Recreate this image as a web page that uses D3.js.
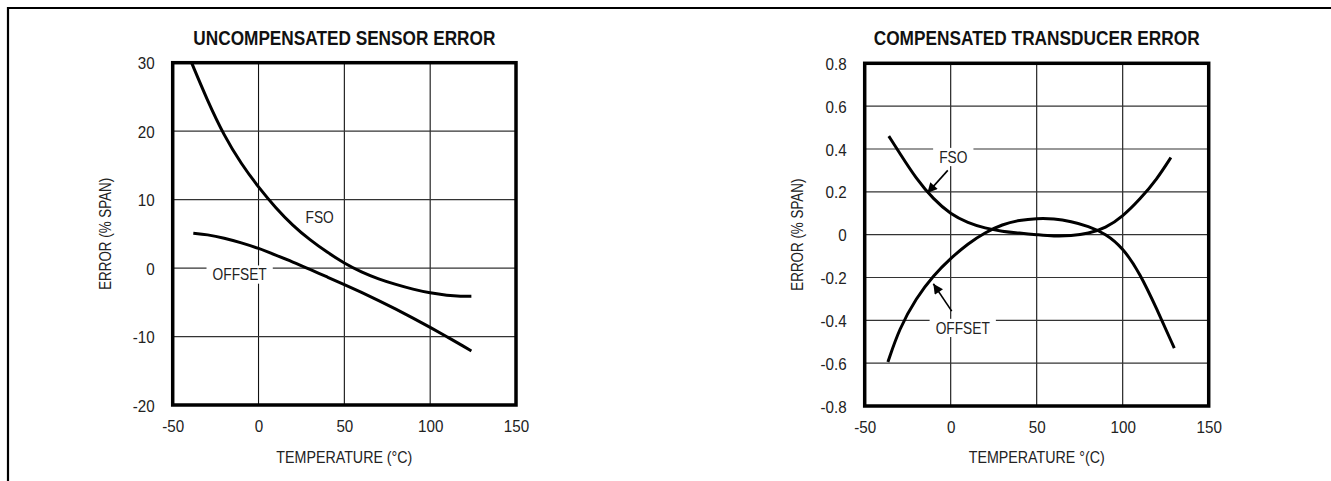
<!DOCTYPE html>
<html>
<head>
<meta charset="utf-8">
<script src="https://cdn.jsdelivr.net/npm/d3@7"></script>
<style>
  body { margin: 0; background: #fff; }
  svg { display: block; font-family: "Liberation Sans", Arial, sans-serif; }
</style>
</head>
<body>
<div id="chart"></div>
<script>
// valeurs
const tempTicks = [-50, 0, 50, 100, 150];

// graphique de gauche : erreur non compensée (% span)
const uncompTicks = [-20, -10, 0, 10, 20, 30];
const uncompFso = [
    [-39, 30], [-30, 24.6], [-20, 19.3], [-10, 15.2], [0, 11.8], [10, 8.8], [20, 6.2],
    [30, 4.1], [40, 2.3], [50, 0.7], [60, -0.6], [70, -1.6], [80, -2.4], [90, -3.1],
    [100, -3.65], [110, -4.0], [118, -4.12], [124, -4.1]
];
const uncompOffset = [
    [-38, 5.1], [-30, 4.9], [-20, 4.4], [-10, 3.7], [0, 2.9], [10, 1.9], [20, 0.9],
    [30, -0.2], [40, -1.3], [50, -2.4], [60, -3.55], [70, -4.75], [80, -6.0], [90, -7.3],
    [100, -8.65], [110, -10.05], [120, -11.5], [124, -12.1]
];

// graphique de droite : erreur compensée (% span)
const compTicks = [-0.8, -0.6, -0.4, -0.2, 0, 0.2, 0.4, 0.6, 0.8];
const compFso = [
    [-36, 0.46], [-30, 0.385], [-20, 0.26], [-10, 0.165], [0, 0.095], [10, 0.055],
    [20, 0.03], [30, 0.015], [40, 0.007], [50, 0], [60, -0.008], [70, -0.006],
    [80, 0.005], [90, 0.03], [100, 0.085], [110, 0.165], [120, 0.26], [128, 0.36]
];
const compOffset = [
    [-36.5, -0.595], [-30, -0.44], [-20, -0.295], [-10, -0.19], [0, -0.11], [10, -0.042],
    [20, 0.01], [30, 0.048], [40, 0.068], [50, 0.076], [60, 0.075], [70, 0.062],
    [80, 0.04], [90, 0.005], [100, -0.06], [110, -0.18], [120, -0.35], [130, -0.53]
];

// étiquettes des courbes : [texte, T, valeur]  + flèches [T0, v0, T1, v1]
const uncompLabels = [["FSO", 35.6, 6.57], ["OFFSET", -11, -1.81]];
const compLabels = [["FSO", 1.5, 0.335], ["OFFSET", 7, -0.463]];
const compArrows = [[-1.7, 0.30, -13.6, 0.194], [0.6, -0.357, -10.1, -0.229]];

const width = 1331;
const height = 481;
const fontSize = 16;
const tickNarrow = 0.95; // police étroite simulée
const labelNarrow = 0.86;

const svg = d3.select("#chart").append("svg")
    .attr("width", width)
    .attr("height", height)
    .attr("viewBox", [0, 0, width, height]);

// cadre extérieur (haut + gauche)
svg.append("path")
    .attr("d", `M8,${height} V8 H${width}`)
    .attr("fill", "none")
    .attr("stroke", "#000")
    .attr("stroke-width", 2.2);

svg.append("defs").append("marker")
    .attr("id", "arrow")
    .attr("viewBox", "0 0 10 10")
    .attr("refX", 10).attr("refY", 5)
    .attr("markerWidth", 12).attr("markerHeight", 10)
    .attr("markerUnits", "userSpaceOnUse")
    .attr("orient", "auto")
    .append("path")
    .attr("d", "M0,0 L10,5 L0,10 z")
    .attr("fill", "#000");

const fmt = d => String(d);

/**
 * dessine un graphique
 */
function drawPanel(opts) {
    const { left, right, top, bottom, yTicks, series, labels, arrows, title, titleWidth, labelX, labelY } = opts;

    const x = d3.scaleLinear().domain([-50, 150]).range([left, right]);
    const y = d3.scaleLinear().domain(d3.extent(yTicks)).range([bottom, top]);

    const g = svg.append("g");

    // grille
    g.append("g")
        .selectAll("line")
        .data(tempTicks.slice(1, -1))
        .join("line")
        .attr("x1", d => x(d)).attr("x2", d => x(d))
        .attr("y1", top).attr("y2", bottom)
        .attr("stroke", "#111").attr("stroke-width", 1.1);

    g.append("g")
        .selectAll("line")
        .data(yTicks.slice(1, -1))
        .join("line")
        .attr("x1", left).attr("x2", right)
        .attr("y1", d => y(d)).attr("y2", d => y(d))
        .attr("stroke", "#333").attr("stroke-width", 1.2);

    // axes (texte seulement)
    const ax = g.append("g")
        .attr("transform", `translate(0,${bottom + 12})`)
        .call(d3.axisBottom(x).tickValues(tempTicks).tickFormat(fmt).tickSize(0).tickPadding(4));

    const ay = g.append("g")
        .attr("transform", `translate(${left - 18},0)`)
        .call(d3.axisLeft(y).tickValues(yTicks).tickFormat(fmt).tickSize(0).tickPadding(0));
    ay.selectAll(".tick text").attr("dy", "0.38em");

    [ax, ay].forEach(a => {
        a.select(".domain").remove();
        a.attr("font-family", null).attr("font-size", null);
        a.selectAll(".tick text")
            .attr("fill", "#222")
            .attr("font-size", fontSize)
            .attr("transform", `scale(${tickNarrow},1)`);
    });

    // étiquettes avec fond blanc
    const lab = g.append("g")
        .selectAll("g")
        .data(labels)
        .join("g")
        .attr("transform", d => `translate(${x(d[1])},${y(d[2])}) scale(${labelNarrow},1)`);
    lab.append("text")
        .attr("text-anchor", "middle")
        .attr("font-size", fontSize)
        .attr("fill", "#222")
        .text(d => d[0]);
    lab.each(function () {
        const b = d3.select(this).select("text").node().getBBox();
        d3.select(this).insert("rect", "text")
            .attr("x", b.x - 7).attr("y", b.y)
            .attr("width", b.width + 14).attr("height", b.height)
            .attr("fill", "#fff");
    });

    // flèches
    g.append("g")
        .selectAll("line")
        .data(arrows)
        .join("line")
        .attr("x1", d => x(d[0])).attr("y1", d => y(d[1]))
        .attr("x2", d => x(d[2])).attr("y2", d => y(d[3]))
        .attr("stroke", "#000").attr("stroke-width", 1.6)
        .attr("marker-end", "url(#arrow)");

    // courbes
    const line = d3.line()
        .x(d => x(d[0]))
        .y(d => y(d[1]))
        .curve(d3.curveBasis);

    g.append("g")
        .selectAll("path")
        .data(series)
        .join("path")
        .attr("fill", "none")
        .attr("stroke", "#000")
        .attr("stroke-width", 3)
        .attr("d", line);

    // cadre du graphique
    g.append("rect")
        .attr("x", left).attr("y", top)
        .attr("width", right - left).attr("height", bottom - top)
        .attr("fill", "none")
        .attr("stroke", "#000")
        .attr("stroke-width", 3.5);

    // titre
    g.append("text")
        .attr("x", (left + right) / 2)
        .attr("y", 44.5)
        .attr("text-anchor", "middle")
        .attr("font-weight", "bold")
        .attr("font-size", 20)
        .attr("textLength", titleWidth)
        .attr("lengthAdjust", "spacingAndGlyphs")
        .attr("fill", "#111")
        .text(title);

    // libellé axe x
    g.append("text")
        .attr("x", (left + right) / 2)
        .attr("y", 463)
        .attr("text-anchor", "middle")
        .attr("font-size", fontSize)
        .attr("textLength", 136)
        .attr("lengthAdjust", "spacingAndGlyphs")
        .attr("fill", "#222")
        .text(labelX);

    // libellé axe y
    g.append("text")
        .attr("transform", `translate(${left - 62},${(top + bottom) / 2}) rotate(-90)`)
        .attr("text-anchor", "middle")
        .attr("font-size", fontSize)
        .attr("textLength", 112)
        .attr("lengthAdjust", "spacingAndGlyphs")
        .attr("fill", "#222")
        .text(labelY);
}

drawPanel({
    left: 172.7, right: 516, top: 62.7, bottom: 405,
    yTicks: uncompTicks,
    series: [uncompFso, uncompOffset],
    labels: uncompLabels, arrows: [],
    title: "UNCOMPENSATED SENSOR ERROR", titleWidth: 302,
    labelX: "TEMPERATURE (°C)", labelY: "ERROR (% SPAN)"
});

drawPanel({
    left: 864.7, right: 1208.7, top: 63.3, bottom: 406,
    yTicks: compTicks,
    series: [compFso, compOffset],
    labels: compLabels, arrows: compArrows,
    title: "COMPENSATED TRANSDUCER ERROR", titleWidth: 326,
    labelX: "TEMPERATURE °(C)", labelY: "ERROR (% SPAN)"
});
</script>
</body>
</html>
